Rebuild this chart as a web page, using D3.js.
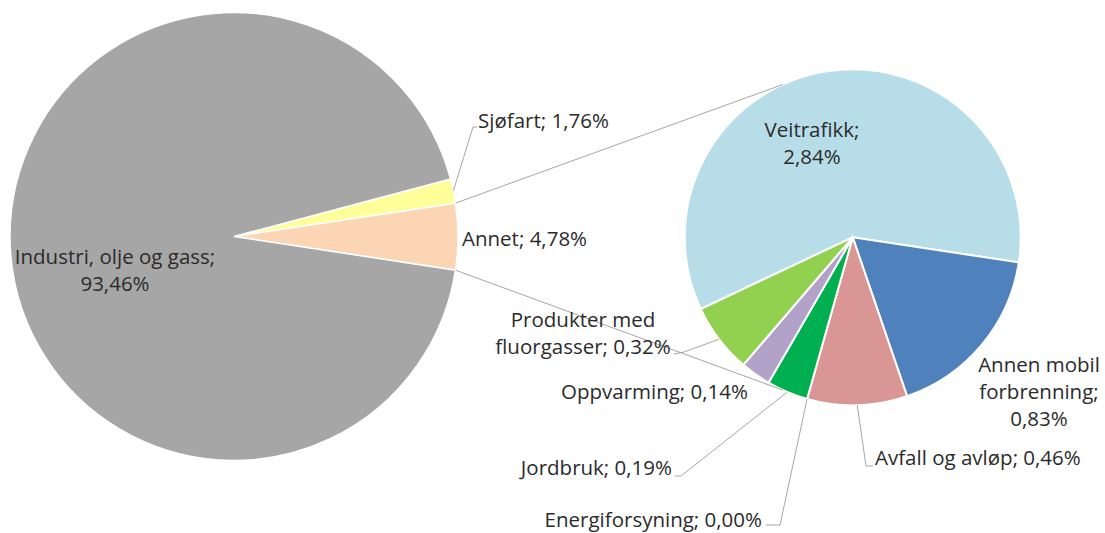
<!DOCTYPE html>
<html>
<head>
<meta charset="utf-8">
<script src="https://cdn.jsdelivr.net/npm/d3@7"></script>
<style>
  body { margin: 0; background: #fff; }
  text { font-family: "Open Sans", "Noto Sans", sans-serif; font-size: 20.5px; fill: #2b2b2b; }
</style>
</head>
<body>
<div id="chart"></div>
<script>
// Pie-of-pie: utslipp fordelt på kilder, "Annet" splittet ut i høyre pai

// main pie
const mainLabels = ["Sjøfart", "Annet", "Industri, olje og gass"];
const mainValues = [1.76, 4.78, 93.46];
const mainColors = ["#FFFF99", "#FCD5B5", "#A6A6A6"];

// secondary pie (breakdown of "Annet")
const subLabels = ["Veitrafikk", "Annen mobil forbrenning", "Avfall og avløp", "Energiforsyning",
                   "Jordbruk", "Oppvarming", "Produkter med fluorgasser"];
const subValues = [2.84, 0.83, 0.46, 0.00, 0.19, 0.14, 0.32];
const subColors = ["#B7DEE8", "#4F81BD", "#D99694", "#C0504D", "#00B050", "#B3A2C7", "#92D050"];

function drawChart() {
    const width = 1105, height = 533;
    const deg = Math.PI / 180;

    const svg = d3.select("#chart").append("svg")
        .attr("width", width)
        .attr("height", height);

    const locale = d3.formatLocale({ decimal: ",", thousands: " ", grouping: [3], currency: ["", " kr"] });
    const fmt = locale.format(".2f");

    // MAIN PIE
    const cx1 = 234, cy1 = 236.5, r1 = 224;
    const main = mainLabels.map((l, i) => ({ label: l, value: mainValues[i], color: mainColors[i] }));
    const pie1 = d3.pie().sort(null).value(d => d.value)
        .startAngle(75.1 * deg).endAngle(75.1 * deg + 2 * Math.PI);
    const arcs1 = pie1(main);
    const arc1 = d3.arc().innerRadius(0).outerRadius(r1);

    const g1 = svg.append("g").attr("transform", `translate(${cx1},${cy1})`);
    g1.selectAll("path").data(arcs1).enter().append("path")
        .attr("d", arc1)
        .attr("fill", d => d.data.color)
        .attr("stroke", "#fff")
        .attr("stroke-width", 1.5);

    // SECONDARY PIE
    const cx2 = 852.7, cy2 = 237.3, r2 = 168;
    const sub = subLabels.map((l, i) => ({ label: l, value: subValues[i], color: subColors[i] }));
    const subTotal = d3.sum(subValues);
    const start2 = 98.6 * deg - (subValues[0] / subTotal) * 2 * Math.PI;
    const pie2 = d3.pie().sort(null).value(d => d.value)
        .startAngle(start2).endAngle(start2 + 2 * Math.PI);
    const arcs2 = pie2(sub);
    const arc2 = d3.arc().innerRadius(0).outerRadius(r2);

    const g2 = svg.append("g").attr("transform", `translate(${cx2},${cy2})`);
    g2.selectAll("path").data(arcs2.filter(d => d.value > 0)).enter().append("path")
        .attr("d", arc2)
        .attr("fill", d => d.data.color)
        .attr("stroke", "#fff")
        .attr("stroke-width", 2);

    // polar helper (angle clockwise from top)
    const pt = (cx, cy, r, a) => [cx + r * Math.sin(a), cy - r * Math.cos(a)];

    // connector lines between "Annet" and the second pie
    const annet = arcs1[1];
    const conn = [
        [pt(cx1, cy1, r1, annet.startAngle), pt(cx2, cy2, r2, -24.5 * deg)],
        [pt(cx1, cy1, r1, annet.endAngle), pt(cx2, cy2, r2, 204.5 * deg)]
    ];
    svg.selectAll("line.conn").data(conn).enter().append("line")
        .attr("class", "conn")
        .attr("x1", d => d[0][0]).attr("y1", d => d[0][1])
        .attr("x2", d => d[1][0]).attr("y2", d => d[1][1])
        .attr("stroke", "#A6A6A6").attr("stroke-width", 1);

    // LABELS
    // layout per label: anchor, x, first baseline, leader knee/end (optional)
    const mainLayout = {
        "Sjøfart": { anchor: "start", x: 478, y: 128, lines: d => [`${d.label}; ${fmt(d.value)}%`],
                     leader: [[473, 127], [477, 127]] },
        "Annet": { anchor: "start", x: 462, y: 246, lines: d => [`${d.label}; ${fmt(d.value)}%`] },
        "Industri, olje og gass": { anchor: "middle", x: 115, y: 264, lines: d => [`${d.label};`, `${fmt(d.value)}%`] }
    };
    const subLayout = {
        "Veitrafikk": { anchor: "middle", x: 812, y: 137, lines: d => [`${d.label};`, `${fmt(d.value)}%`] },
        "Annen mobil forbrenning": { anchor: "middle", x: 1039, y: 372, lines: d => ["Annen mobil", "forbrenning;", `${fmt(d.value)}%`] },
        "Avfall og avløp": { anchor: "start", x: 875, y: 465, lines: d => [`${d.label}; ${fmt(d.value)}%`],
                     leader: [[866, 466], [873, 466]] },
        "Energiforsyning": { anchor: "end", x: 762, y: 527, lines: d => [`${d.label}; ${fmt(d.value)}%`],
                     leader: [[780, 525], [766, 525]] },
        "Jordbruk": { anchor: "end", x: 672, y: 475, lines: d => [`${d.label}; ${fmt(d.value)}%`],
                     leader: [[681, 476], [675, 476]] },
        "Oppvarming": { anchor: "end", x: 748, y: 399, lines: d => [`${d.label}; ${fmt(d.value)}%`] },
        "Produkter med fluorgasser": { anchor: "middle", x: 583, y: 327, lines: d => ["Produkter med", `fluorgasser; ${fmt(d.value)}%`],
                     leader: [[684, 352], [674, 354]] }
    };

    function drawLabels(arcs, layout, cx, cy, r) {
        arcs.forEach(a => {
            const L = layout[a.data.label];
            if (!L) return;
            if (L.leader) {
                const mid = (a.startAngle + a.endAngle) / 2;
                const p0 = pt(cx, cy, r, mid);
                svg.append("path")
                    .attr("d", d3.line()([p0, ...L.leader]))
                    .attr("fill", "none")
                    .attr("stroke", "#A6A6A6")
                    .attr("stroke-width", 1);
            }
            const t = svg.append("text")
                .attr("text-anchor", L.anchor)
                .attr("x", L.x).attr("y", L.y);
            L.lines(a.data).forEach((s, i) => {
                t.append("tspan").attr("x", L.x).attr("dy", i === 0 ? 0 : 27).text(s);
            });
        });
    }

    drawLabels(arcs1, mainLayout, cx1, cy1, r1);
    drawLabels(arcs2, subLayout, cx2, cy2, r2);
}

document.addEventListener("DOMContentLoaded", drawChart);
</script>
</body>
</html>
